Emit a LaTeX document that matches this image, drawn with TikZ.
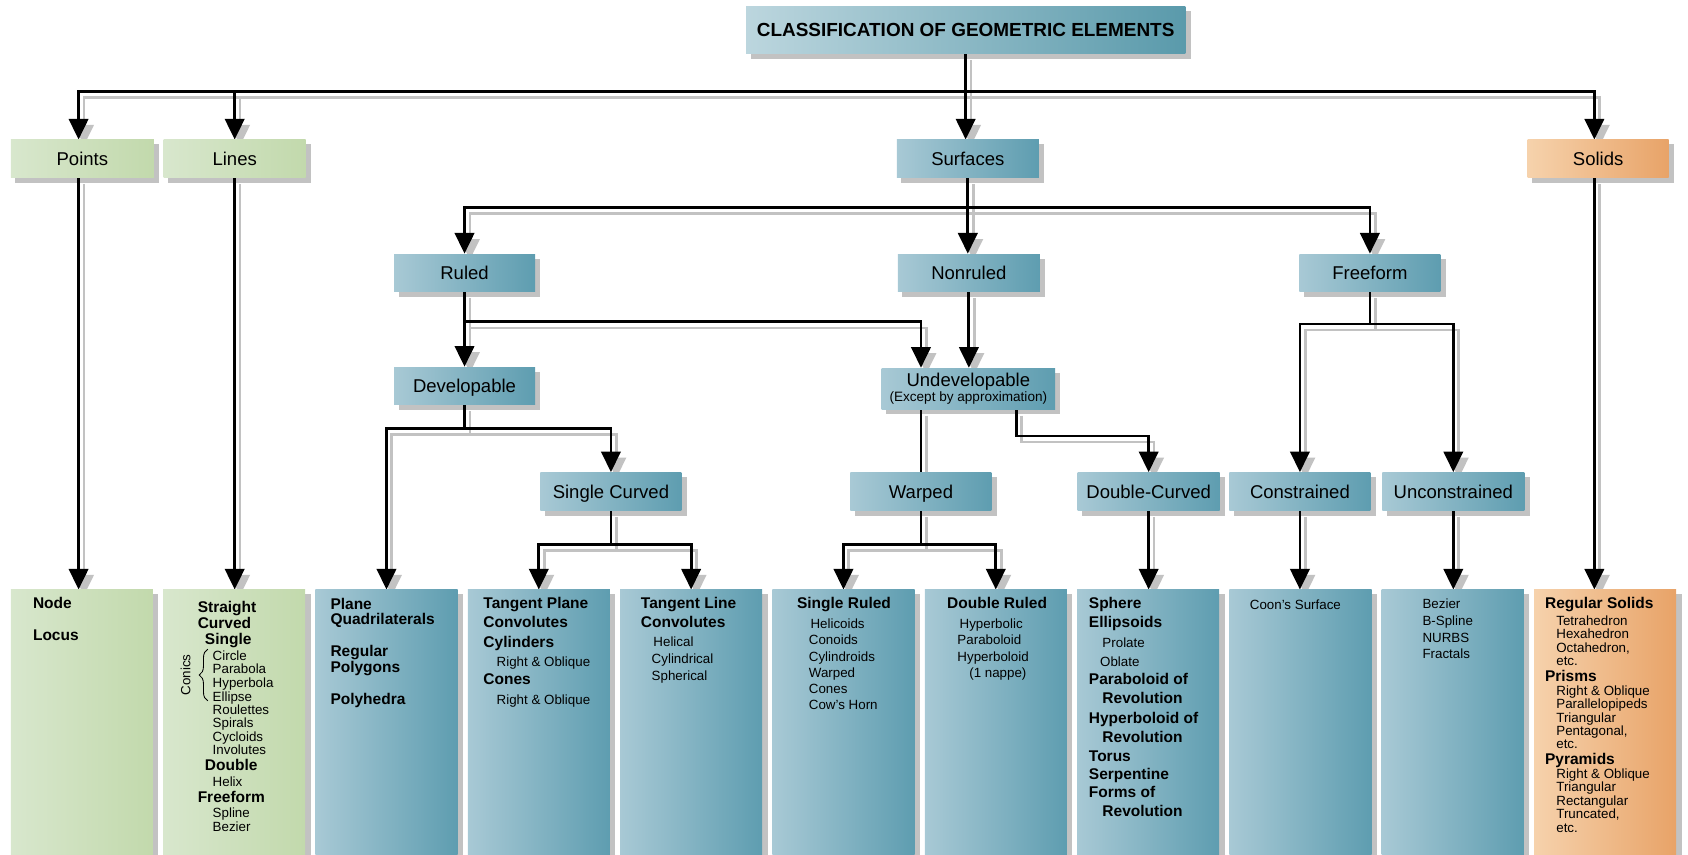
\documentclass[tikz,border=0pt]{standalone}
\usepackage{fontspec}
\setmainfont{Liberation Sans}
\usetikzlibrary{arrows.meta,decorations.pathreplacing}
\pgfdeclarelayer{boxshadow}
\pgfdeclarelayer{lineshadow}
\pgfdeclarelayer{lines}
\pgfsetlayers{boxshadow,lineshadow,lines,main}
\definecolor{tealL}{HTML}{A8C9D5}
\definecolor{tealR}{HTML}{5E9DB0}
\definecolor{greenL}{HTML}{D8E7CD}
\definecolor{greenR}{HTML}{C2D9AC}
\definecolor{orangeL}{HTML}{F6D2AC}
\definecolor{orangeR}{HTML}{E8A368}
\definecolor{shadowgrey}{HTML}{C2C2C2}
\definecolor{titleL}{HTML}{BCD6DE}
\definecolor{titleR}{HTML}{5A9AAB}
\tikzset{
  lbox/.style={rectangle, inner sep=0pt, minimum height=17.5pt, minimum width=66pt,
    font=\fontsize{8.6}{10}\selectfont, text height=6.16pt, text depth=0pt,
    left color=tealL, right color=tealR, text=black},
  greenbox/.style={lbox, left color=greenL, right color=greenR},
  orangebox/.style={lbox, left color=orangeL, right color=orangeR},
  titlebox/.style={lbox, minimum width=204pt, minimum height=22pt,
    font=\fontsize{8.8}{10}\selectfont\bfseries, text height=6.3pt,
    left color=titleL, right color=titleR},
  colbox/.style={rectangle, inner sep=0pt, minimum width=66pt, minimum height=123.1pt,
    left color=tealL, right color=tealR},
  greencol/.style={colbox, left color=greenL, right color=greenR},
  orangecol/.style={colbox, left color=orangeL, right color=orangeR},
  lbltxt/.style={inner sep=0pt, font=\fontsize{8.6}{10}\selectfont, text height=6.16pt, text depth=0pt},
  subtxt/.style={inner sep=0pt, font=\fontsize{6.3}{7}\selectfont, text height=4.5pt, text depth=0pt},
  boldtxt/.style={anchor=west, inner sep=0pt, font=\fontsize{7.2}{8}\selectfont\bfseries, text height=5.15pt, text depth=0pt},
  smalltxt/.style={anchor=west, inner sep=0pt, font=\fontsize{6.2}{7}\selectfont, text height=4.45pt, text depth=0pt},
  conn/.style={line width=1.3pt, black},
  shconn/.style={line width=1.3pt, shadowgrey, transform canvas={shift={(2.5pt,-2.8pt)}}},
  arr/.style={-{Triangle[width=9pt,length=9.6pt]}}
}
\newcounter{tl}
\newcommand\txtB[3]{\stepcounter{tl}\node[boldtxt] (tl\arabic{tl}) at (#1,#2) {#3};}
\newcommand\txtS[3]{\stepcounter{tl}\node[smalltxt] (tl\arabic{tl}) at (#1,#2) {#3};}
\newcommand\link[2]{%
  \begin{pgfonlayer}{lineshadow}\draw[shconn,#1] #2;\end{pgfonlayer}%
  \begin{pgfonlayer}{lines}\draw[conn,#1] #2;\end{pgfonlayer}}
\newcommand\boxshadow[1]{\fill[shadowgrey] ([shift={(2.3pt,-2.3pt)}]#1.north west) rectangle ([shift={(2.3pt,-2.3pt)}]#1.south east);}
\begin{document}
\begin{tikzpicture}[x=0.5pt,y=-0.5pt]
\useasboundingbox (0,0) rectangle (1568,794.2);
% ---- boxes
\node[titlebox] (title) at (897,28) {CLASSIFICATION OF GEOMETRIC ELEMENTS};
\node[greenbox, minimum width=66.5pt] (npoints) at (76.5,147.5) {Points};
\node[greenbox] (nlines) at (218,147.5) {Lines};
\node[lbox] (nsurf) at (899,147.5) {Surfaces};
\node[orangebox, minimum width=65.5pt] (nsolids) at (1484.5,147.5) {Solids};
\node[lbox, minimum width=65.5pt] (nruled) at (431.5,253.5) {Ruled};
\node[lbox] (nnonruled) at (900,253.5) {Nonruled};
\node[lbox, minimum width=65.5pt] (nfree) at (1272.5,253.5) {Freeform};
\node[lbox, minimum width=65.5pt] (ndev) at (431.5,358.5) {Developable};
\node[lbox, minimum width=80.5pt, minimum height=19pt] (nundev) at (899.5,361) {};
\node[lbltxt] (undevA) at (899.5,353) {Undevelopable};
\node[subtxt] (undevB) at (899.5,368.5) {(Except by approximation)};
\node[lbox, minimum width=65.5pt] (nsc) at (567.5,456.5) {Single Curved};
\node[lbox, minimum width=65.5pt] (nwarp) at (855.5,456.5) {Warped};
\node[lbox] (ndc) at (1067,456.5) {Double-Curved};
\node[lbox, minimum width=65.5pt] (ncon) at (1207.5,456.5) {Constrained};
\node[lbox] (nuncon) at (1350,456.5) {Unconstrained};
% ---- columns
\node[greencol] (c1) at (76,671.1) {};
\node[greencol] (c2) at (217.5,671.1) {};
\node[colbox] (c3) at (359,671.1) {};
\node[colbox] (c4) at (500.5,671.1) {};
\node[colbox] (c5) at (642,671.1) {};
\node[colbox] (c6) at (783.5,671.1) {};
\node[colbox] (c7) at (925,671.1) {};
\node[colbox] (c8) at (1066.5,671.1) {};
\node[colbox] (c9) at (1208,671.1) {};
\node[colbox] (c10) at (1349.5,671.1) {};
\node[orangecol] (c11) at (1491,671.1) {};
% ---- box shadows
\begin{pgfonlayer}{boxshadow}
\foreach \n in {title,npoints,nlines,nsurf,nsolids,nruled,nnonruled,nfree,ndev,nundev,nsc,nwarp,ndc,ncon,nuncon,c1,c2,c3,c4,c5,c6,c7,c8,c9,c10,c11}{\boxshadow{\n}}
\end{pgfonlayer}
% ---- bus levels and offset anchors
\coordinate (busA) at (0,85);
\coordinate (busB) at (0,193);
\coordinate (busC) at (0,299);
\coordinate (busD) at (0,398);
\coordinate (busE) at (0,405);
\coordinate (busF) at (0,301);
\coordinate (busG) at (0,506);
\coordinate (u2) at ([xshift=22.25pt]nundev.south);
\coordinate (ptN) at ([xshift=-1.75pt]npoints.north);
\coordinate (ptS) at ([xshift=-1.75pt]npoints.south);
\coordinate (soN) at ([xshift=-1.75pt]nsolids.north);
\coordinate (soS) at ([xshift=-1.75pt]nsolids.south);
% ---- connectors
\link{arr}{(title.south) -- (title.south |- nsurf.north)}
\link{arr}{(title.south |- busA) -| (ptN)}
\link{arr}{(title.south |- busA) -| (nlines.north)}
\link{arr}{(title.south |- busA) -| (soN)}
\link{arr}{(ptS) -- (ptS |- c1.north)}
\link{arr}{(nlines.south) -- (nlines.south |- c2.north)}
\link{arr}{(soS) -- (soS |- c11.north)}
\link{arr}{(nsurf.south) -- (nsurf.south |- nnonruled.north)}
\link{arr}{(nsurf.south |- busB) -| (nruled.north)}
\link{arr}{(nsurf.south |- busB) -| (nfree.north)}
\link{arr}{(nruled.south) -- (nruled.south |- ndev.north)}
\link{arr}{(nruled.south |- busC) -| (nwarp.north |- nundev.north)}
\link{arr}{(nnonruled.south) -- (nnonruled.south |- nundev.north)}
\link{arr}{(ndev.south) -- (ndev.south |- busD) -| (c3.north)}
\link{arr}{(ndev.south |- busD) -| (nsc.north)}
\link{}{(nwarp.north |- nundev.south) -- (nwarp.north)}
\link{arr}{(u2) -- (u2 |- busE) -| (ndc.north)}
\link{arr}{(nfree.south) -- (nfree.south |- busF) -| (ncon.north)}
\link{arr}{(nfree.south |- busF) -| (nuncon.north)}
\link{arr}{(nsc.south) -- (nsc.south |- busG) -| (c4.north)}
\link{arr}{(nsc.south |- busG) -| (c5.north)}
\link{arr}{(nwarp.south) -- (nwarp.south |- busG) -| (c6.north)}
\link{arr}{(nwarp.south |- busG) -| (c7.north)}
\link{arr}{(ndc.south) -- (ndc.south |- c8.north)}
\link{arr}{(ncon.south) -- (ncon.south |- c9.north)}
\link{arr}{(nuncon.south) -- (nuncon.south |- c10.north)}
% ---- column texts
\txtB{30.3}{560.5}{Node}
\txtB{30.3}{590.2}{Locus}
%
\txtB{183.3}{563.6}{Straight}
\txtB{183.3}{579}{Curved}
\txtB{190}{593.3}{Single}
\txtS{197.2}{608.8}{Circle}
\txtS{197.2}{621.5}{Parabola}
\txtS{197.2}{633.9}{Hyperbola}
\txtS{197.2}{646.8}{Ellipse}
\txtS{197.2}{659.2}{Roulettes}
\txtS{197.2}{671.3}{Spirals}
\txtS{197.2}{684}{Cycloids}
\txtS{197.2}{696.4}{Involutes}
\txtB{190}{710.3}{Double}
\txtS{197.2}{725.8}{Helix}
\txtB{183.3}{740}{Freeform}
\txtS{197.2}{754.6}{Spline}
\txtS{197.2}{768}{Bezier}
\node[smalltxt, anchor=center, rotate=90] (conics) at (172.5,627) {Conics};
\draw[decorate, decoration={brace, amplitude=4pt}, line width=0.4pt] (193,651) -- (193,603);
%
\txtB{306.6}{560.8}{Plane}
\txtB{306.6}{575.3}{Quadrilaterals}
\txtB{306.6}{604.7}{Regular}
\txtB{306.6}{619.6}{Polygons}
\txtB{306.6}{649}{Polyhedra}
%
\txtB{448.7}{560.5}{Tangent Plane}
\txtB{448.7}{578.1}{Convolutes}
\txtB{448.7}{596.1}{Cylinders}
\txtS{461}{614.3}{Right \& Oblique}
\txtB{448.7}{631.1}{Cones}
\txtS{461}{649.6}{Right \& Oblique}
%
\txtB{595}{560.5}{Tangent Line}
\txtB{595}{578.1}{Convolutes}
\txtS{606.6}{596.3}{Helical}
\txtS{605}{611.6}{Cylindrical}
\txtS{605}{627.3}{Spherical}
%
\txtB{740}{560.5}{Single Ruled}
\txtS{752.5}{579}{Helicoids}
\txtS{751}{594.5}{Conoids}
\txtS{751}{609.7}{Cylindroids}
\txtS{751}{624.5}{Warped}
\txtS{751}{639.4}{Cones}
\txtS{751}{654.3}{Cow's Horn}
%
\txtB{879.4}{560.5}{Double Ruled}
\txtS{891}{579}{Hyperbolic}
\txtS{889}{594.5}{Paraboloid}
\txtS{889}{609.7}{Hyperboloid}
\txtS{900}{624.5}{(1 nappe)}
%
\txtB{1011.1}{560.5}{Sphere}
\txtB{1011.1}{578.1}{Ellipsoids}
\txtS{1023.7}{596.7}{Prolate}
\txtS{1021.5}{614.3}{Oblate}
\txtB{1011.1}{631.1}{Paraboloid of}
\txtB{1023.7}{648.7}{Revolution}
\txtB{1011.1}{666.7}{Hyperboloid of}
\txtB{1023.7}{684.3}{Revolution}
\txtB{1011.1}{702}{Torus}
\txtB{1011.1}{718.7}{Serpentine}
\txtB{1011.1}{736}{Forms of}
\txtB{1023.7}{753.7}{Revolution}
%
\txtS{1160.6}{561.4}{Coon's Surface}
%
\txtS{1321}{561}{Bezier}
\txtS{1321}{576.9}{B-Spline}
\txtS{1321}{592}{NURBS}
\txtS{1321}{606.9}{Fractals}
%
\txtB{1434.8}{560.5}{Regular Solids}
\txtS{1445.3}{576.2}{Tetrahedron}
\txtS{1445.3}{588.6}{Hexahedron}
\txtS{1445.3}{601.3}{Octahedron,}
\txtS{1445.3}{613.4}{etc.}
\txtB{1434.8}{627.7}{Prisms}
\txtS{1445.3}{641.3}{Right \& Oblique}
\txtS{1445.3}{653.4}{Parallelopipeds}
\txtS{1445.3}{666.7}{Triangular}
\txtS{1445.3}{678.7}{Pentagonal,}
\txtS{1445.3}{691.1}{etc.}
\txtB{1434.8}{705.1}{Pyramids}
\txtS{1445.3}{718.4}{Right \& Oblique}
\txtS{1445.3}{730.8}{Triangular}
\txtS{1445.3}{743.5}{Rectangular}
\txtS{1445.3}{755.5}{Truncated,}
\txtS{1445.3}{768.5}{etc.}
\end{tikzpicture}
\end{document}
